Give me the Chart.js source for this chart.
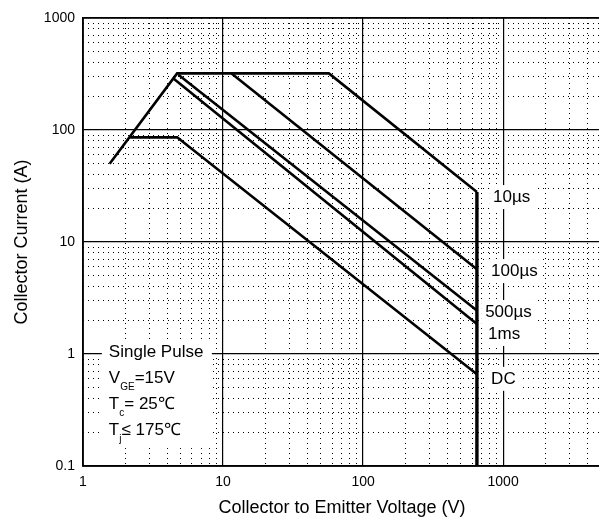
<!DOCTYPE html>
<html>
<head>
<meta charset="utf-8">
<script src="https://cdn.jsdelivr.net/npm/chart.js@4/dist/chart.umd.min.js"></script>
<style>
  html, body { margin: 0; padding: 0; background: #fff; overflow: hidden; }
  #box { width: 602px; height: 520px; }
</style>
</head>
<body>
<div id="box"><canvas id="soa_chart" width="602" height="520"></canvas></div>
<script>
// values (V, A)
const curve10us = [[1.55, 50], [4.7, 320], [57, 320], [650, 28]];
const curve100us = [[11.5, 320], [650, 5.7]];
const curve500us = [[4.8, 312], [650, 2.45]];
const curve1ms = [[4.4, 290], [650, 1.85]];
const curveDC = [[2.17, 86], [4.7, 86], [650, 0.66]];
const vceLimit = [[650, 28], [650, 0.1]];

const curveNames = ["10µs", "100µs", "500µs", "1ms", "DC"];
const xTicks = [1, 10, 100, 1000];
const yTicks = [0.1, 1, 10, 100, 1000];

const FONT = "Arial, 'Liberation Sans', sans-serif";

const minorOf = (majors, max) => {
  let out = [];
  majors.forEach((m) => {
    for (let k = 2; k <= 9; k++) {
      if (m * k < max) out.push(+(m * k).toPrecision(3));
    }
  });
  return out;
};
const xMinor = minorOf(xTicks, 5000);
const yMinor = minorOf(yTicks.slice(0, -1), 1000);

const toXY = (arr) => arr.map((p) => ({ x: p[0], y: p[1] }));

// where the curve names and the condition text sit (data coords)
const nameAnchors = [[848, 25.2], [821, 5.5], [744, 2.37], [781, 1.51], [821, 0.6]];
const conditionAnchor = [1.53, 1.04];
const conditionLines = [
  { main: "Single Pulse" },
  { main: "V", sub: "GE", rest: "=15V" },
  { main: "T", sub: "c", rest: "= 25℃" },
  { main: "T", sub: "j", rest: "≤ 175℃" },
];

const textPlugin = {
  id: "soaText",
  beforeDatasetsDraw(chart) {
    const { ctx, scales } = chart;
    const x = scales.x, y = scales.y;
    ctx.save();
    ctx.textBaseline = "middle";
    ctx.textAlign = "left";

    ctx.font = "17px " + FONT;
    curveNames.forEach((name, i) => {
      const px = x.getPixelForValue(nameAnchors[i][0]);
      const py = y.getPixelForValue(nameAnchors[i][1]);
      const w = ctx.measureText(name).width;
      ctx.fillStyle = "#fff";
      ctx.fillRect(px - 4, py - 12, w + 8, 24);
      ctx.fillStyle = "#000";
      ctx.fillText(name, px, py);
    });

    const lx = x.getPixelForValue(conditionAnchor[0]);
    const ly = y.getPixelForValue(conditionAnchor[1]);
    const step = 26;
    ctx.fillStyle = "#fff";
    ctx.fillRect(lx - 7, ly - 12, 110, step * 3 + 30);
    conditionLines.forEach((ln, i) => {
      const py = ly + i * step;
      let cx = lx;
      ctx.fillStyle = "#000";
      ctx.font = "17px " + FONT;
      ctx.fillText(ln.main, cx, py);
      cx += ctx.measureText(ln.main).width;
      if (ln.sub) {
        ctx.font = "10px " + FONT;
        ctx.fillText(ln.sub, cx, py + 9);
        cx += ctx.measureText(ln.sub).width;
        ctx.font = "17px " + FONT;
        ctx.fillText(ln.rest, cx, py);
      }
    });
    ctx.restore();
  },
  afterDatasetsDraw(chart) {
    const { ctx, chartArea } = chart;
    ctx.save();
    ctx.strokeStyle = "#000";
    ctx.lineWidth = 1.5;
    ctx.strokeRect(chartArea.left, chartArea.top, chartArea.right - chartArea.left, chartArea.bottom - chartArea.top);
    ctx.restore();
  },
};

const lineSet = (data, width) => ({
  data: toXY(data),
  showLine: true,
  borderColor: "#000",
  borderWidth: width,
  pointRadius: 0,
  fill: false,
  tension: 0,
});

const ctx = document.getElementById("soa_chart").getContext("2d");

let configuration = {
  type: "scatter",
  data: {
    datasets: [
      lineSet(curve10us, 2.6),
      lineSet(curve100us, 2.6),
      lineSet(curve500us, 2.6),
      lineSet(curve1ms, 2.6),
      lineSet(curveDC, 2.6),
      lineSet(vceLimit, 3.4),
    ],
  },
  options: {
    responsive: false,
    animation: false,
    events: [],
    layout: { padding: { top: 18, right: 1, left: 0, bottom: 0 } },
    plugins: { legend: { display: false }, tooltip: { enabled: false } },
    scales: {
      xMinorGrid: {
        type: "logarithmic",
        position: "bottom",
        min: 1,
        max: 5000,
        afterBuildTicks: (axis) => { axis.ticks = xMinor.map((v) => ({ value: v })); },
        afterFit: (s) => { s.height = 0; },
        ticks: { display: false },
        grid: { color: "#000", lineWidth: 1, drawTicks: false },
        border: { display: false, dash: [1, 4] },
      },
      yMinorGrid: {
        type: "logarithmic",
        position: "left",
        min: 0.1,
        max: 1000,
        afterBuildTicks: (axis) => { axis.ticks = yMinor.map((v) => ({ value: v })); },
        afterFit: (s) => { s.width = 0; },
        ticks: { display: false },
        grid: { color: "#000", lineWidth: 1, drawTicks: false },
        border: { display: false, dash: [1, 4] },
      },
      x: {
        type: "logarithmic",
        position: "bottom",
        min: 1,
        max: 5000,
        afterBuildTicks: (axis) => { axis.ticks = xTicks.map((v) => ({ value: v })); },
        afterFit: (s) => { s.height = 54; },
        ticks: { color: "#000", font: { family: FONT, size: 14 }, padding: 8, maxRotation: 0, autoSkip: false, callback: (v) => String(v) },
        grid: { color: "#000", lineWidth: 1.2, drawTicks: false },
        border: { display: true, color: "#000", width: 1.5 },
        title: { display: true, text: "Collector to Emitter Voltage (V)", color: "#000", font: { family: FONT, size: 18 }, padding: { top: 0, bottom: 1 } },
      },
      y: {
        type: "logarithmic",
        position: "left",
        min: 0.1,
        max: 1000,
        afterBuildTicks: (axis) => { axis.ticks = yTicks.map((v) => ({ value: v })); },
        afterFit: (s) => { s.width = 83; },
        ticks: { color: "#000", font: { family: FONT, size: 14 }, padding: 8, autoSkip: false, callback: (v) => String(v) },
        grid: { color: "#000", lineWidth: 1.2, drawTicks: false },
        border: { display: true, color: "#000", width: 1.5 },
        title: { display: true, text: "Collector Current (A)", color: "#000", font: { family: FONT, size: 18 }, padding: { top: 11, bottom: 0 } },
      },
    },
  },
  plugins: [textPlugin],
};

new Chart(ctx, configuration);
</script>
</body>
</html>
